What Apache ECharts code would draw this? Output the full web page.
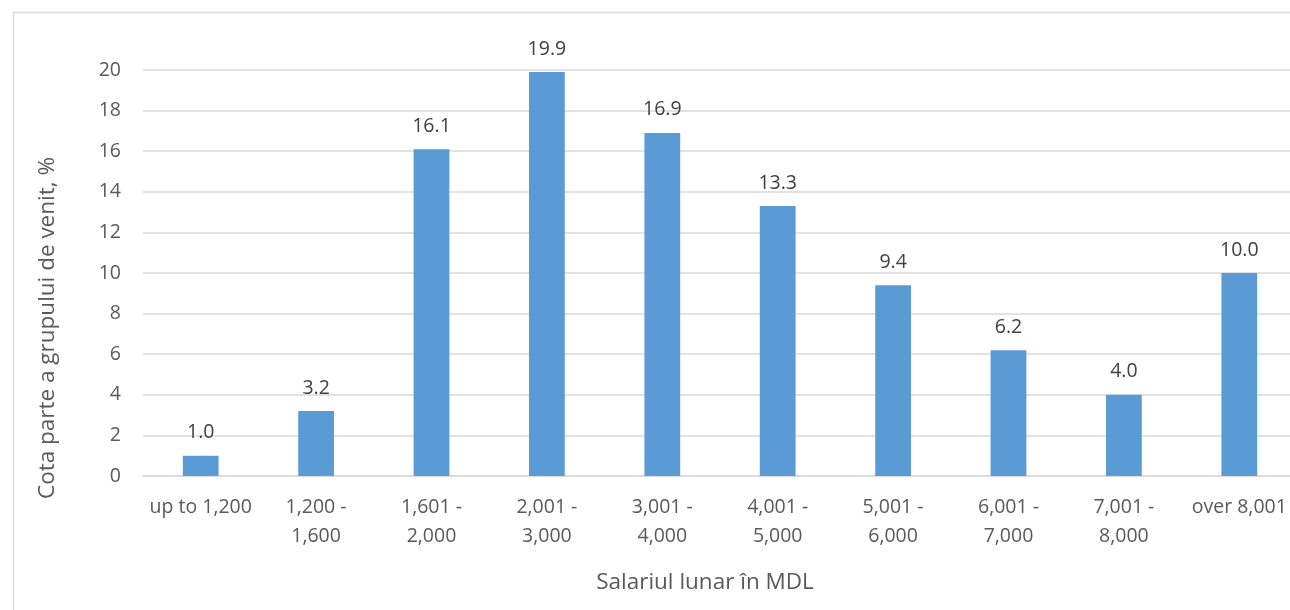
<!DOCTYPE html>
<html>
<head>
<meta charset="utf-8">
<script src="https://cdn.jsdelivr.net/npm/echarts@6/dist/echarts.min.js"></script>
<style>
html,body{margin:0;padding:0;background:#fff;}
#c{width:1290px;height:610px;}
</style>
</head>
<body>
<div id="c"></div>
<script>
const categories = ["up to 1,200", "1,200 - 1,600", "1,601 - 2,000", "2,001 - 3,000", "3,001 - 4,000", "4,001 - 5,000", "5,001 - 6,000", "6,001 - 7,000", "7,001 - 8,000", "over 8,001"];
const values = [1.0, 3.2, 16.1, 19.9, 16.9, 13.3, 9.4, 6.2, 4.0, 10.0];
const yTicks = [0, 2, 4, 6, 8, 10, 12, 14, 16, 18, 20];
const yAxisTitle = "Cota parte a grupului de venit, %";
const xAxisTitle = "Salariul lunar în MDL";

const FONT = "'Open Sans', 'Noto Sans', sans-serif";
const chart = echarts.init(document.getElementById('c'), null, {renderer: 'canvas'});
chart.setOption({
  animation: false,
  backgroundColor: '#ffffff',
  grid: {left: 143, width: 1154, top: 70, height: 406, containLabel: false, outerBoundsMode: 'none'},
  graphic: [
    {type: 'rect', left: 11, top: 10, shape: {width: 1320, height: 640}, style: {fill: 'none', stroke: '#D9D9D9', lineWidth: 1.5}, silent: true, z: -10},
    {type: 'text', x: 705, y: 583, style: {text: xAxisTitle, font: "22.5px " + FONT, fill: '#595959', textAlign: 'center', textVerticalAlign: 'middle'}},
    {type: 'text', x: 48, y: 328, rotation: Math.PI / 2, style: {text: yAxisTitle, font: "22.5px " + FONT, fill: '#595959', textAlign: 'center', textVerticalAlign: 'middle'}}
  ],
  xAxis: {
    type: 'category',
    data: categories,
    axisLine: {show: true, lineStyle: {color: '#D9D9D9', width: 1.5}},
    axisTick: {show: false},
    axisLabel: {
      color: '#595959', fontFamily: FONT, fontSize: 19.5, lineHeight: 29, margin: 17, interval: 0,
      formatter: v => v.replace(' - ', ' -\n')
    }
  },
  yAxis: {
    type: 'value', min: yTicks[0], max: yTicks[yTicks.length - 1], interval: 2,
    axisLine: {show: false}, axisTick: {show: false},
    axisLabel: {color: '#595959', fontFamily: FONT, fontSize: 19.5, margin: 22},
    splitLine: {lineStyle: {color: '#D9D9D9', width: 1.5}}
  },
  series: [{
    type: 'bar',
    data: values,
    barWidth: '31%',
    itemStyle: {color: '#5B9BD5'},
    label: {
      show: true, position: 'top', distance: 13,
      color: '#404040', fontFamily: FONT, fontSize: 19.5,
      formatter: p => p.value.toFixed(1)
    }
  }]
});
</script>
</body>
</html>
